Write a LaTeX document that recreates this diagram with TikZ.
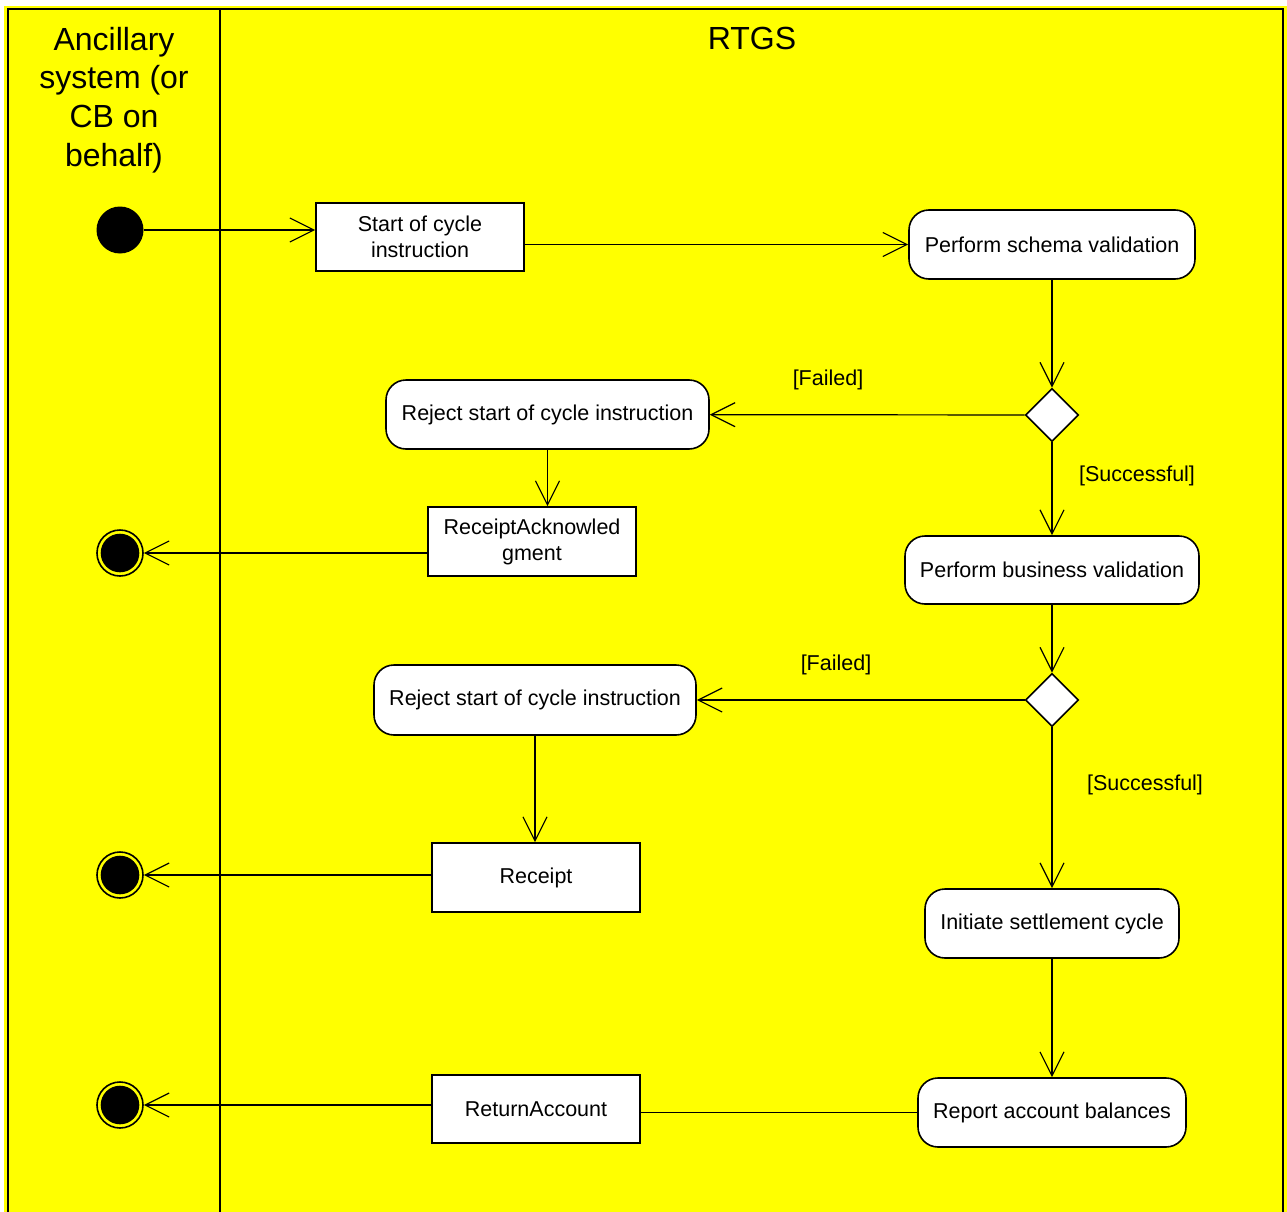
\documentclass[tikz,border=0pt]{standalone}
\usepackage{fontspec}
\setmainfont{Liberation Sans}
\usetikzlibrary{arrows.meta,shapes.geometric}
\definecolor{lane}{HTML}{FFFF00}
\begin{document}
\begin{tikzpicture}[x=1pt,y=-1pt,
  every node/.style={inner sep=0pt, font=\fontsize{21.5}{26}\selectfont, text=black},
  act/.style={draw, line width=1.6pt, fill=white, rounded corners=20pt, align=center},
  obj/.style={draw, line width=1.6pt, fill=white, align=center},
  dec/.style={draw, line width=1.6pt, fill=white, diamond, minimum width=53pt, minimum height=53pt},
  startn/.style={circle, fill=black, minimum size=47pt},
  endn/.style={circle, draw, line width=1.6pt, fill=lane, minimum size=46pt,
    path picture={\fill[black] (path picture bounding box.center) circle (19.3pt);}},
  flow/.style={line width=1.2pt, -{Straight Barb[length=24pt,width=24pt,line width=1.2pt]}},
  plain/.style={line width=1.2pt},
  lanetitle/.style={font=\fontsize{32}{38.6}\selectfont, align=center},
  guard/.style={}
]
\useasboundingbox (0,0) rectangle (1287,1212);
\fill[lane] (4,6) rectangle (1287,1212);
\draw[line width=2pt] (8,1220) -- (8,9) -- (1283,9) -- (1283,1220);
\draw[line width=2pt] (220,9) -- (220,1220);

\node[lanetitle, anchor=north] (t1) at (114,27) {Ancillary\\system (or\\CB on\\behalf)};
\node[lanetitle, anchor=north] (t2) at (752,27) {RTGS};

\node[startn] (init) at (120,230) {};
\node[obj, minimum width=208pt, minimum height=68pt] (soc) at (420,237) {Start of cycle\\instruction};
\node[act, minimum width=286pt, minimum height=69pt] (schema) at (1052,244.5) {Perform schema validation};
\node[dec] (d1) at (1052,415) {};
\node[act, minimum width=323pt, minimum height=69pt] (rej1) at (547.5,414.5) {Reject start of cycle instruction};
\node[obj, minimum width=208pt, minimum height=69pt] (ack) at (532,541.5) {ReceiptAcknowled\\gment};
\node[endn] (end1) at (120,553) {};
\node[act, minimum width=294pt, minimum height=68pt] (bus) at (1052,570) {Perform business validation};
\node[dec] (d2) at (1052,700) {};
\node[act, minimum width=322pt, minimum height=70pt] (rej2) at (535,700) {Reject start of cycle instruction};
\node[obj, minimum width=208pt, minimum height=69pt] (rec) at (536,877.5) {Receipt};
\node[endn] (end2) at (120,875) {};
\node[act, minimum width=254pt, minimum height=69pt] (settle) at (1052,923.5) {Initiate settlement cycle};
\node[act, minimum width=268pt, minimum height=69pt] (rep) at (1052,1112.5) {Report account balances};
\node[obj, minimum width=208pt, minimum height=68pt] (ret) at (536,1109) {ReturnAccount};
\node[endn] (end3) at (120,1105) {};

\node[guard] (f1) at (828,380) {[Failed]};
\node[guard] (s1) at (1137,476) {[Successful]};
\node[guard] (f2) at (836,665) {[Failed]};
\node[guard] (s2) at (1145,785) {[Successful]};

\draw[flow] (init) -- (init -| soc.west);
\draw[flow] (soc.east |- schema.west) -- (schema.west);
\draw[flow] (schema) -- (d1);
\draw[flow] (d1) -- (rej1);
\draw[flow] (rej1.south) -- (rej1.south |- ack.north);
\draw[flow] (ack.west |- end1) -- (end1);
\draw[flow] (d1) -- (bus);
\draw[flow] (bus) -- (d2);
\draw[flow] (d2) -- (rej2);
\draw[flow] (rej2.south) -- (rej2.south |- rec.north);
\draw[flow] (rec.west |- end2) -- (end2);
\draw[flow] (d2) -- (settle);
\draw[flow] (settle) -- (rep);
\draw[plain] (rep) -- (rep -| ret.east);
\draw[flow] (ret.west |- end3) -- (end3);
\end{tikzpicture}
\end{document}
